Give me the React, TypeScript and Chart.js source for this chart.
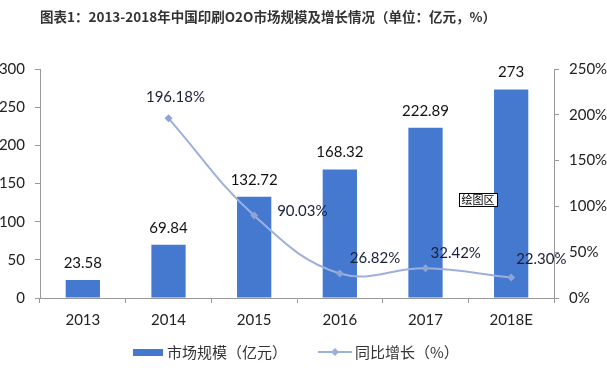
import React, { useEffect, useRef } from "react";
import { Chart, registerables } from "chart.js";

Chart.register(...registerables);

const categories = ["2013", "2014", "2015", "2016", "2017", "2018E"];
const marketSize = [23.58, 69.84, 132.72, 168.32, 222.89, 273];
const growth = [null, 1.9618, 0.9003, 0.2682, 0.3242, 0.223];
const marketLabels = ["23.58", "69.84", "132.72", "168.32", "222.89", "273"];
const growthLabels = ["", "196.18%", "90.03%", "26.82%", "32.42%", "22.30%"];
const leftTicks = [0, 50, 100, 150, 200, 250, 300];
const rightTicks = [0, 0.5, 1, 1.5, 2, 2.5];

const TITLE = "图表1：2013-2018年中国印刷O2O市场规模及增长情况（单位：亿元，%）";
const LEGEND_BAR = "市场规模（亿元）";
const LEGEND_LINE = "同比增长（%）";

const BAR_COLOR = "#4479CF";
const LINE_COLOR = "#9DB0DC";
const AXIS_COLOR = "#999999";
const FONT = "Lato, 'Noto Sans CJK SC', sans-serif";

const growthLabelOffsets: [number, number, CanvasTextAlign][] = [
  [0, 0, "left"],
  [7, -21, "center"],
  [23, -4, "left"],
  [10, -15, "left"],
  [5, -15, "left"],
  [5, -18, "left"],
];

const overlayPlugin = {
  id: "overlay",
  afterDatasetsDraw(chart: any) {
    const ctx = chart.ctx as CanvasRenderingContext2D;
    ctx.save();
    const barMeta = chart.getDatasetMeta(0);
    ctx.font = `15px ${FONT}`;
    ctx.fillStyle = "#111";
    ctx.textAlign = "center";
    ctx.textBaseline = "middle";
    barMeta.data.forEach((el: any, i: number) => {
      ctx.fillText(marketLabels[i], el.x, el.y - 17);
    });
    const lineMeta = chart.getDatasetMeta(1);
    ctx.fillStyle = "#1a1f3a";
    lineMeta.data.forEach((el: any, i: number) => {
      if (!growthLabels[i]) return;
      const [dx, dy, align] = growthLabelOffsets[i];
      ctx.textAlign = align;
      ctx.fillText(growthLabels[i], el.x + dx, el.y + dy);
    });
    ctx.restore();
  },
  afterDraw(chart: any) {
    const ctx = chart.ctx as CanvasRenderingContext2D;
    ctx.save();
    ctx.font = `bold 13.5px 'Noto Sans CJK SC', ${FONT}`;
    ctx.fillStyle = "#333";
    ctx.textAlign = "left";
    ctx.textBaseline = "middle";
    ctx.fillText(TITLE, 40, 17);

    ctx.font = `15px 'Noto Sans CJK SC', ${FONT}`;
    ctx.fillStyle = BAR_COLOR;
    ctx.fillRect(133, 349, 30, 7);
    ctx.fillStyle = "#333";
    ctx.fillText(LEGEND_BAR, 167, 352);
    ctx.strokeStyle = LINE_COLOR;
    ctx.lineWidth = 2;
    ctx.beginPath();
    ctx.moveTo(318, 352);
    ctx.lineTo(352, 352);
    ctx.stroke();
    ctx.fillStyle = LINE_COLOR;
    ctx.beginPath();
    ctx.moveTo(335, 348);
    ctx.lineTo(339, 352);
    ctx.lineTo(335, 356);
    ctx.lineTo(331, 352);
    ctx.closePath();
    ctx.fill();
    ctx.fillStyle = "#333";
    ctx.fillText(LEGEND_LINE, 355, 352);

    ctx.fillStyle = "#fff";
    ctx.fillRect(459, 193, 38, 13);
    ctx.strokeStyle = "#000";
    ctx.lineWidth = 1;
    ctx.strokeRect(459.5, 193.5, 38, 13);
    ctx.fillStyle = "#000";
    ctx.font = `11px 'Noto Sans CJK SC', sans-serif`;
    ctx.textAlign = "center";
    ctx.fillText("绘图区", 478, 200);
    ctx.restore();
  },
};

export default function App() {
  const ref = useRef<HTMLCanvasElement | null>(null);
  useEffect(() => {
    if (!ref.current) return;
    const chart = new Chart(ref.current, {
      type: "bar",
      data: {
        labels: categories,
        datasets: [
          {
            type: "bar",
            label: LEGEND_BAR,
            data: marketSize,
            backgroundColor: BAR_COLOR,
            barPercentage: 0.4,
            categoryPercentage: 1,
            yAxisID: "y",
            order: 2,
          },
          {
            type: "line",
            label: LEGEND_LINE,
            data: growth as any,
            borderColor: LINE_COLOR,
            backgroundColor: "#8EA3D6",
            borderWidth: 2,
            tension: 0.4,
            pointStyle: "rectRot",
            pointRadius: 4,
            pointBorderWidth: 0,
            yAxisID: "y1",
            order: 1,
          } as any,
        ],
      },
      options: {
        responsive: false,
        animation: false,
        layout: { padding: { top: 69, bottom: 42, left: 0, right: 0 } },
        plugins: {
          legend: { display: false },
          title: { display: false },
          tooltip: { enabled: false },
        },
        scales: {
          x: {
            offset: true,
            grid: {
              offset: true,
              drawOnChartArea: false,
              drawTicks: true,
              tickLength: 5,
              color: AXIS_COLOR,
            },
            border: { color: AXIS_COLOR },
            ticks: {
              color: "#222",
              font: { family: FONT, size: 15 },
              padding: 8,
              maxRotation: 0,
            },
            afterFit(scale: any) {
              scale.height = 30;
            },
          },
          y: {
            position: "left",
            min: 0,
            max: 300,
            afterBuildTicks(scale: any) {
              scale.ticks = leftTicks.map((v) => ({ value: v }));
            },
            grid: {
              drawOnChartArea: false,
              tickLength: 5,
              color: AXIS_COLOR,
            },
            border: { color: AXIS_COLOR },
            ticks: {
              color: "#222",
              font: { family: FONT, size: 15 },
              padding: 10,
            },
            afterFit(scale: any) {
              scale.width = 40;
            },
          },
          y1: {
            position: "right",
            min: 0,
            max: 2.5,
            afterBuildTicks(scale: any) {
              scale.ticks = rightTicks.map((v) => ({ value: v }));
            },
            grid: {
              drawOnChartArea: false,
              tickLength: 5,
              color: AXIS_COLOR,
            },
            border: { color: AXIS_COLOR },
            ticks: {
              color: "#222",
              font: { family: FONT, size: 15 },
              padding: 10,
              callback: (v: any) => `${Math.round(Number(v) * 100)}%`,
            },
            afterFit(scale: any) {
              scale.width = 53;
            },
          },
        },
      },
      plugins: [overlayPlugin],
    });
    return () => chart.destroy();
  }, []);
  return (
    <div style={{ position: "fixed", left: 0, top: 0, width: 607, height: 370, background: "#fff" }}>
      <canvas ref={ref} width={607} height={370} style={{ width: 607, height: 370 }} />
    </div>
  );
}
